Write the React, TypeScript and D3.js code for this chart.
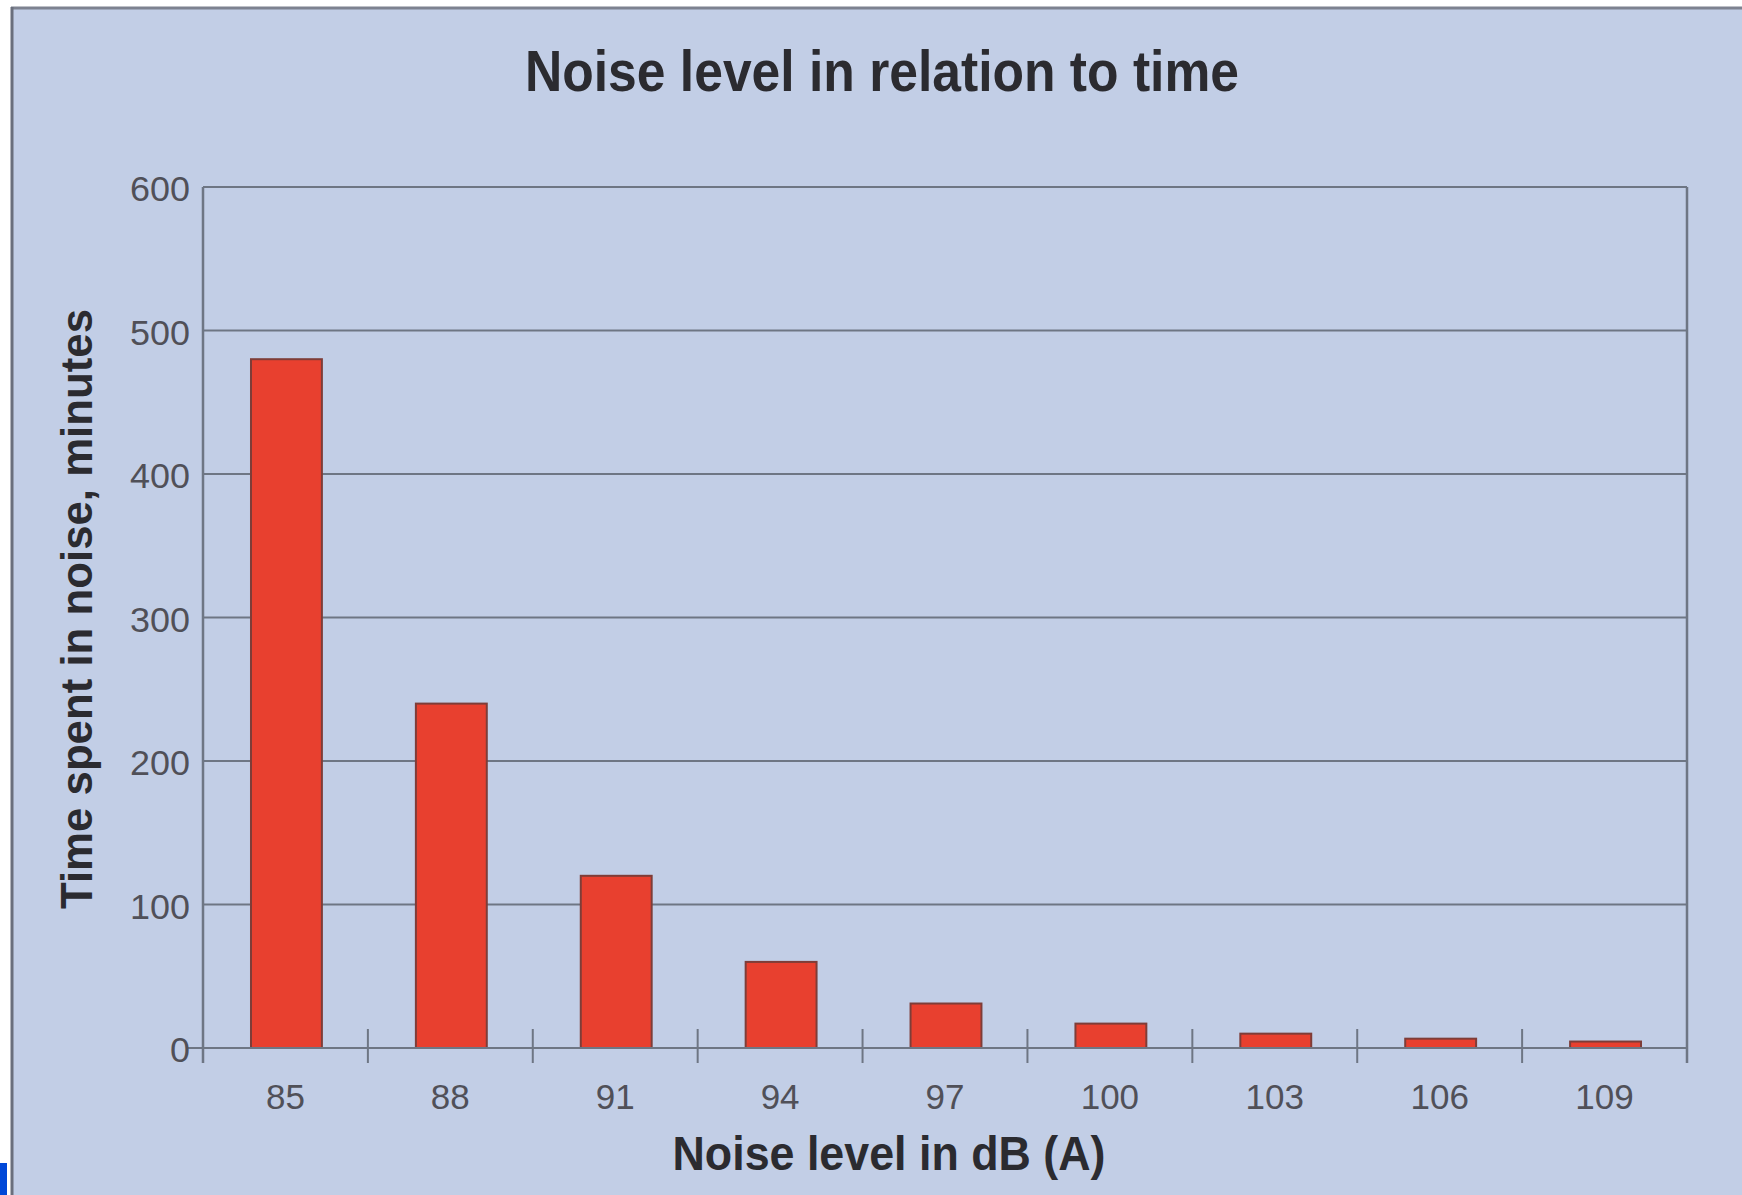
import React from "react";
import * as d3 from "d3";

// Permissible exposure time at each noise level
const noiseLevels: string[] = ["85", "88", "91", "94", "97", "100", "103", "106", "109"];
const minutesAllowed: number[] = [480, 240, 120, 60, 31, 17, 10, 6.5, 4.5];
const yTickValues: number[] = [0, 100, 200, 300, 400, 500, 600];

const W = 1742;
const H = 1195;
const plot = { left: 203, right: 1687, top: 187, bottom: 1048 };

const FONT = "'Liberation Sans', Arial, Helvetica, sans-serif";

export default function App() {
  const x = d3
    .scaleBand<string>()
    .domain(noiseLevels)
    .range([plot.left, plot.right])
    .padding(0);
  const y = d3.scaleLinear().domain([0, 600]).range([plot.bottom, plot.top]);

  const step = x.step();
  const barW = step * 0.43;
  const boundaries = d3.range(noiseLevels.length + 1).map((i) => plot.left + i * step);

  return (
    <svg
      width={W}
      height={H}
      viewBox={`0 0 ${W} ${H}`}
      style={{ position: "absolute", left: 0, top: 0, display: "block" }}
    >
      {/* page background and panel */}
      <rect x={0} y={0} width={W} height={H} fill="#ffffff" />
      <rect x={11} y={7} width={W - 11} height={H - 7} fill="#C2CEE6" />
      <line x1={11} x2={W} y1={8} y2={8} stroke="#7d8290" strokeWidth={3} />
      <line x1={12} x2={12} y1={7} y2={H} stroke="#6a6f7c" strokeWidth={3} />
      <rect x={0} y={1163} width={7} height={H - 1163} fill="#0048D8" />

      {/* title */}
      <text
        x={882}
        y={91}
        textAnchor="middle"
        fontFamily={FONT}
        fontWeight="bold"
        fontSize={57}
        fill="#2b2b30"
        textLength={714}
        lengthAdjust="spacingAndGlyphs"
      >
        Noise level in relation to time
      </text>

      {/* horizontal grid lines */}
      {yTickValues.map((v) => (
        <line
          key={`g${v}`}
          x1={v === 0 ? plot.left - 15 : plot.left}
          x2={plot.right}
          y1={y(v)}
          y2={y(v)}
          stroke="#6e7684"
          strokeWidth={2}
        />
      ))}

      {/* plot frame sides */}
      <line x1={plot.left} x2={plot.left} y1={plot.top} y2={plot.bottom + 15} stroke="#6e7684" strokeWidth={2.5} />
      <line x1={plot.right} x2={plot.right} y1={plot.top} y2={plot.bottom + 15} stroke="#6e7684" strokeWidth={2.5} />

      {/* category tick marks */}
      {boundaries.slice(1, -1).map((bx, i) => (
        <line key={`t${i}`} x1={bx} x2={bx} y1={plot.bottom - 19} y2={plot.bottom + 15} stroke="#6e7684" strokeWidth={2} />
      ))}

      {/* bars */}
      {noiseLevels.map((lvl, i) => {
        const cx = (x(lvl) as number) + step / 2 + 1;
        const top = y(minutesAllowed[i]);
        return (
          <rect
            key={`b${lvl}`}
            x={cx - barW / 2}
            y={top}
            width={barW}
            height={plot.bottom - top}
            fill="#E8402F"
            stroke="#7e3d38"
            strokeWidth={2}
          />
        );
      })}
      <line x1={plot.left} x2={plot.right} y1={plot.bottom} y2={plot.bottom} stroke="#6e7684" strokeWidth={2} />

      {/* y tick labels */}
      {yTickValues.map((v) => (
        <text
          key={`yl${v}`}
          x={190}
          y={y(v) + 2}
          dy="0.35em"
          textAnchor="end"
          fontFamily={FONT}
          fontSize={35}
          fill="#505058"
          textLength={String(v).length * 20}
          lengthAdjust="spacingAndGlyphs"
        >
          {v}
        </text>
      ))}

      {/* x tick labels */}
      {noiseLevels.map((lvl) => (
        <text
          key={`xl${lvl}`}
          x={(x(lvl) as number) + step / 2}
          y={1109}
          textAnchor="middle"
          fontFamily={FONT}
          fontSize={35}
          fill="#505058"
        >
          {lvl}
        </text>
      ))}

      {/* axis titles */}
      <text
        x={889}
        y={1170}
        textAnchor="middle"
        fontFamily={FONT}
        fontWeight="bold"
        fontSize={48}
        fill="#2b2b30"
        textLength={433}
        lengthAdjust="spacingAndGlyphs"
      >
        Noise level in dB (A)
      </text>
      <text
        transform={`translate(92, 609) rotate(-90)`}
        textAnchor="middle"
        fontFamily={FONT}
        fontWeight="bold"
        fontSize={45}
        fill="#2b2b30"
        textLength={600}
        lengthAdjust="spacingAndGlyphs"
      >
        Time spent in noise, minutes
      </text>
    </svg>
  );
}
